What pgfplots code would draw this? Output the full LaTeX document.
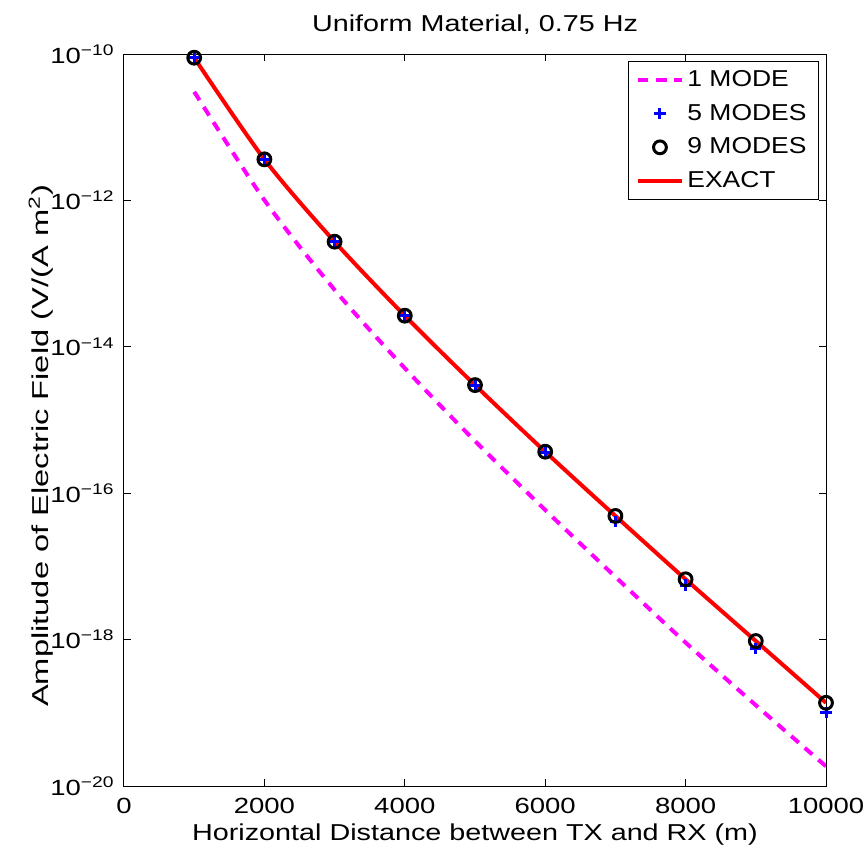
\documentclass[border=0pt]{standalone}
\usepackage{fontspec}
\setmainfont{Liberation Sans}[FakeStretch=1.25]
\newfontfamily\ylabfont{Liberation Sans}[FakeStretch=1.42]
\newfontfamily\legfont{Liberation Sans}[FakeStretch=1.15]
\usepackage{pgfplots}
\pgfplotsset{compat=1.18}
\definecolor{modeone}{rgb}{1,0,1}
\pgfplotsset{
  legimg/.style={legend image code/.code={%
    \draw[mark repeat=2,mark phase=2,##1] plot coordinates {(0pt,0pt) (10.75pt,0pt) (21.5pt,0pt)};}},
}

% Field amplitude versus TX-RX offset
\pgfplotstableread{
x      one       five      nine      exact
1000   3.05e-11  8.9e-11   8.9e-11   8.9e-11
2000   1.01e-12  3.64e-12  3.64e-12  3.64e-12
3000   6.0e-14   2.73e-13  2.73e-13  2.73e-13
4000   5.1e-15   2.66e-14  2.66e-14  2.66e-14
5000   5.16e-16  3.0e-15   3.0e-15   3.0e-15
6000   5.9e-17   3.55e-16  3.69e-16  3.69e-16
7000   7.2e-18   4.1e-17   4.89e-17  4.89e-17
8000   9.1e-19   5.57e-18  6.67e-18  6.67e-18
9000   1.27e-19  7.6e-19   9.57e-19  9.57e-19
10000  1.86e-20  1.02e-19  1.37e-19  1.37e-19
}\fielddata

\begin{document}
\begin{tikzpicture}[font=\fontsize{11}{13}\selectfont]
% page frame around the 351pt x 366pt plot area
\useasboundingbox (-62pt,-32pt) rectangle (371.5pt,393pt);
\begin{axis}[
  at={(0pt,0pt)}, anchor=south west,
  scale only axis, width=351pt, height=366pt,
  xmin=0, xmax=10000,
  ymode=log, ymin=1e-20, ymax=1e-10,
  xtick={0,2000,4000,6000,8000,10000},
  scaled x ticks=false,
  ytick={1e-20,1e-18,1e-16,1e-14,1e-12,1e-10},
  yticklabels={10\textsuperscript{−20},10\textsuperscript{−18},10\textsuperscript{−16},10\textsuperscript{−14},10\textsuperscript{−12},10\textsuperscript{−10}},
  yminorticks=false,
  xtick pos=both, ytick pos=both, tick align=inside,
  major tick length=3.5pt,
  every tick/.style={black, line width=0.5pt},
  axis line style={line width=0.5pt},
  /pgf/number format/1000 sep={},
  /pgf/number format/assume math mode=true,
  xticklabel style={yshift=-2.3pt},
  yticklabel style={xshift=-1.2pt},
  every axis title shift=0pt,
  title={Uniform Material, 0.75 Hz},
  title style={at={(axis description cs:0.5,1.0314)}, anchor=base, font=\fontsize{11.5}{13}\selectfont},
  xlabel={Horizontal Distance between TX and RX (m)},
  xlabel style={at={(axis description cs:0.5,-0.0738)}, anchor=base, font=\fontsize{11.5}{13}\selectfont},
  ylabel={Amplitude of Electric Field (V/(A m\textsuperscript{2})},
  ylabel style={at={(axis description cs:-0.1182,0.4645)}, anchor=center, font=\fontsize{11.5}{13}\selectfont\ylabfont},
  legend style={at={(axis description cs:1,1)}, anchor=north east, xshift=-3.5pt, yshift=-3.5pt,
    draw=black, line width=0.5pt, row sep=3.4pt, inner xsep=4pt, inner ysep=2.3pt,
    font=\fontsize{11.5}{13}\selectfont\legfont},
  legend cell align=left,
]
\addplot[modeone, line width=2pt, dash pattern=on 5pt off 4pt, smooth, legimg]
  table[x=x, y=one] {\fielddata};
\addlegendentry{1 MODE}
\addplot[blue, only marks, mark=+, mark size=2.8pt, line width=1.5pt, legimg]
  table[x=x, y=five] {\fielddata};
\addlegendentry{5 MODES}
\addplot[black, only marks, mark=o, mark size=3.2pt, line width=1.5pt, legimg]
  table[x=x, y=nine] {\fielddata};
\addlegendentry{9 MODES}
\addplot[red, line width=2pt, smooth, legimg]
  table[x=x, y=exact] {\fielddata};
\addlegendentry{EXACT}
\end{axis}
\end{tikzpicture}
\end{document}
